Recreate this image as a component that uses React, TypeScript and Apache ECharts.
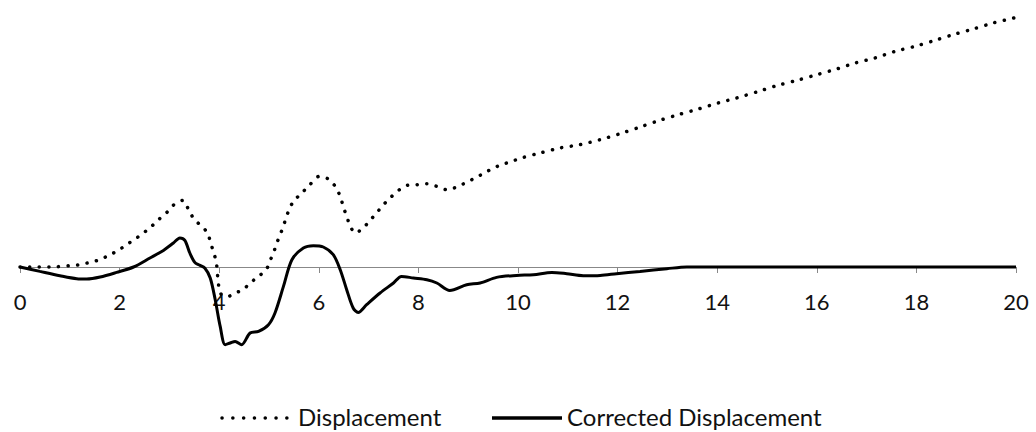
import React, { useEffect, useRef } from "react";
import * as echarts from "echarts";

const displacementX = [0, 0.2, 0.6, 1.0, 1.2, 1.4, 1.6, 1.77, 1.97, 2.14, 2.31, 2.48, 2.64, 2.78, 2.95, 3.09, 3.27, 3.38, 3.48, 3.61, 3.76, 3.82, 3.88, 3.94, 3.96, 3.98, 4.02, 4.15, 4.32, 4.48, 4.62, 4.79, 4.95, 5.03, 5.1, 5.17, 5.25, 5.32, 5.39, 5.49, 5.66, 5.82, 6.01, 6.19, 6.33, 6.43, 6.49, 6.56, 6.63, 6.73, 6.89, 7.03, 7.16, 7.3, 7.43, 7.6, 7.77, 7.97, 8.17, 8.37, 8.57, 8.77, 8.94, 9.1, 9.3, 9.47, 9.67, 9.87, 10.07, 10.44, 10.84, 11.24, 11.65, 12.05, 12.45, 12.82, 13.22, 13.62, 14.02, 14.39, 14.83, 15.19, 15.6, 16.0, 16.4, 16.77, 17.17, 17.57, 17.97, 18.37, 18.78, 19.14, 19.54, 20.0];
const displacementY = [0, 0, 0, 0.13, 0.23, 0.46, 0.73, 1.13, 1.66, 2.23, 2.8, 3.4, 4.06, 4.73, 5.46, 6.23, 6.66, 5.8, 4.9, 4.23, 3.46, 2.56, 1.56, 0.56, -0.44, -1.44, -2.6, -3.0, -2.6, -2.27, -1.6, -0.94, -0.2, 0.73, 1.56, 2.56, 3.56, 4.56, 5.56, 6.56, 7.4, 8.23, 9.06, 8.8, 8.06, 7.06, 6.06, 5.06, 4.13, 3.4, 3.9, 4.66, 5.4, 6.23, 6.9, 7.66, 8.16, 8.23, 8.33, 8.06, 7.73, 8.0, 8.4, 8.8, 9.33, 9.8, 10.23, 10.56, 10.9, 11.4, 11.9, 12.23, 12.73, 13.33, 14.0, 14.63, 15.23, 15.8, 16.4, 16.9, 17.56, 18.13, 18.66, 19.23, 19.8, 20.4, 20.9, 21.56, 22.06, 22.66, 23.3, 23.8, 24.4, 24.95];

const correctedX = [0, 0.4, 0.8, 1.14, 1.34, 1.61, 1.94, 2.28, 2.61, 2.88, 3.08, 3.21, 3.31, 3.41, 3.51, 3.6, 3.71, 3.82, 3.92, 4.02, 4.12, 4.22, 4.32, 4.45, 4.62, 4.79, 4.99, 5.12, 5.29, 5.46, 5.69, 5.89, 6.09, 6.29, 6.43, 6.56, 6.69, 6.79, 6.96, 7.23, 7.5, 7.66, 7.9, 8.17, 8.37, 8.63, 8.97, 9.24, 9.57, 9.97, 10.31, 10.68, 10.98, 11.31, 11.65, 11.98, 12.45, 12.99, 13.39, 14, 16, 18, 20];
const correctedY = [0, -0.44, -0.87, -1.17, -1.2, -1.0, -0.54, 0, 0.9, 1.66, 2.4, 2.9, 2.66, 1.4, 0.46, 0.2, -0.1, -1.1, -3.27, -5.94, -7.77, -7.6, -7.44, -7.77, -6.6, -6.44, -5.77, -4.6, -1.94, 0.73, 1.9, 2.13, 2.0, 1.23, -0.27, -2.27, -4.1, -4.54, -3.77, -2.6, -1.6, -0.94, -1.1, -1.27, -1.6, -2.34, -1.77, -1.6, -1.04, -0.84, -0.77, -0.54, -0.67, -0.87, -0.84, -0.67, -0.44, -0.17, 0, 0, 0, 0, 0];

const seriesNames = ["Displacement", "Corrected Displacement"];

const zip = (xs: number[], ys: number[]) => xs.map((x, i) => [x, ys[i]]);

export default function App() {
  const ref = useRef<HTMLDivElement>(null);
  useEffect(() => {
    if (!ref.current) return;
    const chart = echarts.init(ref.current, null, { renderer: "svg" });
    const font = "Lato";
    const dotted = { stroke: "#000000", lineWidth: 3.5, lineDash: [0.1, 10.7], lineCap: "round" };
    const legendY = 416;
    chart.setOption({
      animation: false,
      backgroundColor: "#ffffff",
      grid: { left: 20, right: 20, top: 7, height: 260 },
      xAxis: {
        type: "value",
        min: 0,
        max: 20,
        interval: 2,
        axisLine: { onZero: false, lineStyle: { color: "#888888", width: 1 } },
        axisTick: { show: true, length: 6, lineStyle: { color: "#888888" } },
        axisLabel: { color: "#111111", fontFamily: font, fontSize: 22, margin: 23 },
        splitLine: { show: false },
      },
      yAxis: {
        type: "value",
        min: 0,
        max: 26,
        show: false,
        splitLine: { show: false },
      },
      graphic: [
        { type: "line", shape: { x1: 222, y1: legendY + 2, x2: 287, y2: legendY + 2 }, style: dotted, silent: true },
        { type: "text", x: 298, y: legendY, style: { text: seriesNames[0], fill: "#111111", font: `24px ${font}`, verticalAlign: "middle" } },
        { type: "line", shape: { x1: 492, y1: legendY + 2, x2: 562, y2: legendY + 2 }, style: { stroke: "#000000", lineWidth: 3.5 }, silent: true },
        { type: "text", x: 567, y: legendY, style: { text: seriesNames[1], fill: "#111111", font: `24px ${font}`, verticalAlign: "middle" } },
      ],
      series: [
        {
          name: seriesNames[0],
          type: "line",
          data: zip(displacementX, displacementY),
          showSymbol: false,
          symbol: "none",
          smooth: 0.3,
          clip: false,
          lineStyle: { color: "#000000", width: 3.5, type: [0.1, 9.5], cap: "round" },
          itemStyle: { color: "#000000" },
        },
        {
          name: seriesNames[1],
          type: "line",
          data: zip(correctedX, correctedY),
          showSymbol: false,
          symbol: "none",
          smooth: 0.3,
          clip: false,
          lineStyle: { color: "#000000", width: 3 },
          itemStyle: { color: "#000000" },
        },
      ],
    });
    return () => chart.dispose();
  }, []);
  return (
    <div
      ref={ref}
      style={{ position: "fixed", left: 0, top: 0, width: 1036, height: 432 }}
    />
  );
}
